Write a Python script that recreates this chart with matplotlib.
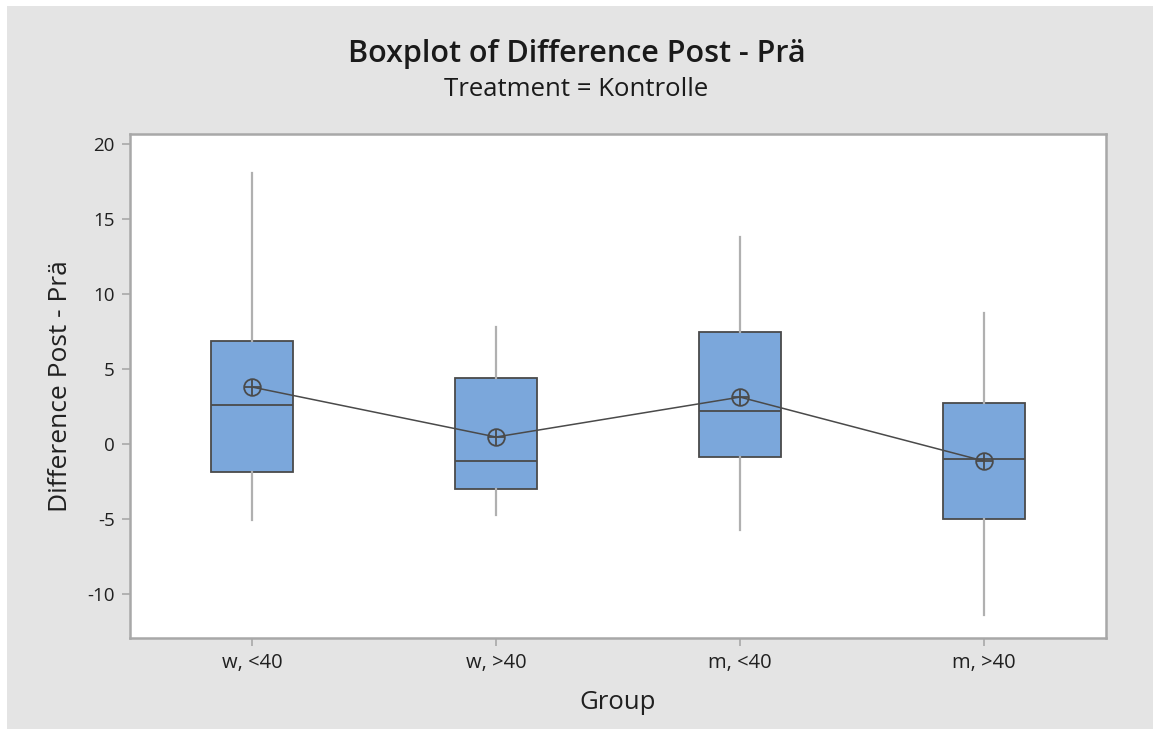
import matplotlib
matplotlib.use("Agg")
import matplotlib.pyplot as plt
from matplotlib.patches import Rectangle

plt.rcParams['font.family'] = ['Open Sans', 'DejaVu Sans']
plt.rcParams['axes.unicode_minus'] = False

groups = ['w, <40', 'w, >40', 'm, <40', 'm, >40']
q1 = [-1.87, -3.0, -0.87, -5.0]
q3 = [6.87, 4.4, 7.47, 2.73]
medians = [2.6, -1.13, 2.2, -1.0]
means = [3.8, 0.47, 3.13, -1.13]
whislo = [-5.07, -4.73, -5.73, -11.4]
whishi = [18.1, 7.8, 13.8, 8.73]

bg = '#e4e4e4'
box_fill = '#7ba7db'
dark = '#4a4a4a'
light = '#a8a8a8'

fig = plt.figure(figsize=(11.53, 7.29), dpi=100)
fig.patch.set_facecolor('white')
fig.patches.append(Rectangle((7/1153, 0), 1 - 7/1153, 1 - 6/729, transform=fig.transFigure,
                             facecolor=bg, edgecolor='none', zorder=-10))
ax = fig.add_axes([130/1153, 1 - 638/729, 976/1153, 504/729])

stats = []
for i in range(len(groups)):
    stats.append({'q1': q1[i], 'q3': q3[i], 'med': medians[i], 'mean': means[i],
                  'whislo': whislo[i], 'whishi': whishi[i], 'fliers': []})
pos = list(range(1, len(groups) + 1))
ax.bxp(stats, positions=pos, widths=0.34, patch_artist=True, showcaps=False,
       boxprops=dict(facecolor=box_fill, edgecolor=dark, linewidth=1.3),
       medianprops=dict(color=dark, linewidth=1.3),
       whiskerprops=dict(color='#b0b0b0', linewidth=1.6))

ax.plot(pos, means, color=dark, linewidth=1.1, zorder=4)
ax.plot(pos, means, linestyle='none', marker='o', markersize=12, mfc='none',
        mec=dark, mew=1.3, zorder=5)
ax.plot(pos, means, linestyle='none', marker='+', markersize=12, mec=dark,
        mew=1.3, zorder=5)

ax.set_xlim(0.5, 4.5)
ax.set_ylim(-12.93, 20.67)
ax.set_yticks([-10, -5, 0, 5, 10, 15, 20])
ax.set_xticks(pos)
ax.set_xticklabels(groups)
ax.set_facecolor('white')
for s in ax.spines.values():
    s.set_color(light)
    s.set_linewidth(1.8)
ax.tick_params(axis='both', colors=light, length=6, width=1.2,
               labelcolor='#202020', pad=5)
ax.tick_params(axis='x', labelsize=14.5)
ax.tick_params(axis='y', labelsize=13.5)

ax.set_xlabel('Group', fontsize=18.5, color='#202020', labelpad=12)
ax.set_ylabel('Difference Post - Prä', fontsize=19, color='#202020', labelpad=10)

fig.text(0.5, 1 - 54/729, 'Boxplot of Difference Post - Prä', ha='center', va='center',
         fontsize=22, fontweight='semibold', color='#1a1a1a')
fig.text(0.5, 1 - 89/729, 'Treatment = Kontrolle', ha='center', va='center',
         fontsize=18.5, color='#1a1a1a')

fig.savefig('out.png', dpi=100, facecolor=fig.get_facecolor())
